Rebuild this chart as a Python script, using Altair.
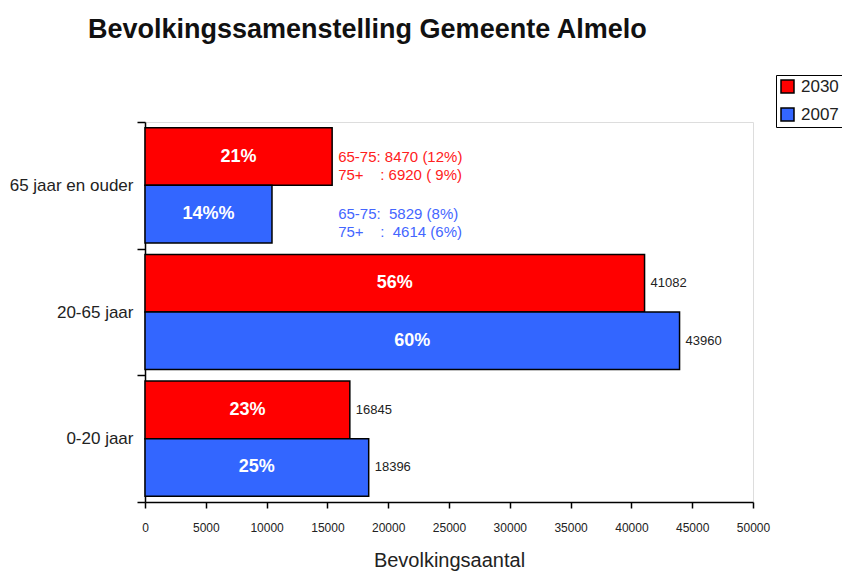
import altair as alt
import pandas as pd

categories = ["65 jaar en ouder", "20-65 jaar", "0-20 jaar"]
years = ["2030", "2007"]
values_2030 = [15390, 41082, 16845]
values_2007 = [10443, 43960, 18396]
pct_2030 = ["21%", "56%", "23%"]
pct_2007 = ["14%%", "60%", "25%"]
show_value = [False, True, True]
detail_2030 = ["65-75: 8470 (12%)", "75+\u00a0\u00a0\u00a0\u00a0: 6920 (\u00a09%)"]
detail_2007 = ["65-75:\u00a0 5829 (8%)", "75+\u00a0\u00a0\u00a0\u00a0:\u00a0 4614 (6%)"]
x_ticks = [0, 5000, 10000, 15000, 20000, 25000, 30000, 35000, 40000, 45000, 50000]

rows = []
for i, c in enumerate(categories):
    rows.append(dict(cat=c, year="2030", value=values_2030[i], pct=pct_2030[i],
                     lab=str(values_2030[i]) if show_value[i] else ""))
    rows.append(dict(cat=c, year="2007", value=values_2007[i], pct=pct_2007[i],
                     lab=str(values_2007[i]) if show_value[i] else ""))
df = pd.DataFrame(rows)

anno = pd.DataFrame([
    dict(cat=categories[0], year="2030", value=values_2030[0], txt=detail_2030, col="2030"),
    dict(cat=categories[0], year="2007", value=values_2030[0], txt=detail_2007, col="2007"),
])

FONT = "Liberation Sans"

y_enc = alt.Y("cat:N", sort=categories,
              scale=alt.Scale(paddingInner=0, paddingOuter=0),
              axis=alt.Axis(title=None, tickBand="extent", tickSize=8, labelPadding=4,
                            labelFontSize=17, labelFont=FONT, labelColor="#222",
                            labelLimit=200, domainColor="black", domainWidth=1.5,
                            tickColor="black", tickWidth=1.5, grid=False))
yoff = alt.YOffset("year:N", sort=years, scale=alt.Scale(paddingInner=0, paddingOuter=0.1))
x_enc = alt.X("value:Q", scale=alt.Scale(domain=[0, 50000], nice=False),
              axis=alt.Axis(values=x_ticks, title="Bevolkingsaantal", grid=False,
                            format="d", labelFontSize=12, labelFont=FONT, labelColor="#222",
                            labelFlush=False, labelOverlap=False,
                            tickSize=6, labelPadding=14, tickColor="black", tickWidth=1.5,
                            domainColor="black", domainWidth=1.5,
                            titleFontSize=20, titleFont=FONT, titleFontWeight="normal",
                            titleColor="#222", titlePadding=17))

bars = alt.Chart(df).mark_bar(stroke="black", strokeWidth=1.5).encode(
    x=x_enc, y=y_enc, yOffset=yoff,
    color=alt.Color("year:N", scale=alt.Scale(domain=years, range=["#FF0000", "#3366FF"]),
                    title=None,
                    legend=alt.Legend(orient="none", legendX=631, legendY=-47,
                                      strokeColor="black", padding=3, symbolType="square",
                                      symbolSize=169, symbolStrokeColor="black",
                                      symbolStrokeWidth=1.5, labelFontSize=17,
                                      labelFont=FONT, labelColor="#222", rowPadding=9,
                                      labelOffset=5))
)

pct = alt.Chart(df).transform_calculate(mid="datum.value / 2").mark_text(
    color="white", fontWeight="bold", fontSize=18, font=FONT, baseline="middle"
).encode(x=alt.X("mid:Q"), y=alt.Y("cat:N", sort=categories), yOffset=yoff, text="pct:N")

vals = alt.Chart(df).transform_filter("datum.lab != ''").mark_text(
    align="left", baseline="middle", dx=6, fontSize=13, font=FONT, color="#222"
).encode(x="value:Q", y=alt.Y("cat:N", sort=categories), yOffset=yoff, text="lab:N")

notes = alt.Chart(anno).mark_text(
    align="left", baseline="middle", dx=6, fontSize=15, font=FONT, lineHeight=18
).encode(
    x="value:Q", y=alt.Y("cat:N", sort=categories), yOffset=yoff, text="txt",
    color=alt.Color("col:N", scale=alt.Scale(domain=years, range=["#FF2020", "#4466FF"]),
                    legend=None)
)

chart = alt.layer(bars, pct, vals, notes).resolve_scale(color="independent").properties(
    width=608, height=380,
    autosize=alt.AutoSizeParams(type="none"),
    padding={"left": 137, "top": 114, "right": 89, "bottom": 70},
    title=alt.TitleParams("Bevolkingssamenstelling Gemeente Almelo", anchor="start",
                          frame="group", dx=-57, offset=31, fontSize=27, font=FONT,
                          fontWeight="bold", color="#111")
).configure_view(stroke="#999999", strokeWidth=2).configure(background="white")

chart.save("out.html", embed_options={"renderer": "svg", "actions": False})
